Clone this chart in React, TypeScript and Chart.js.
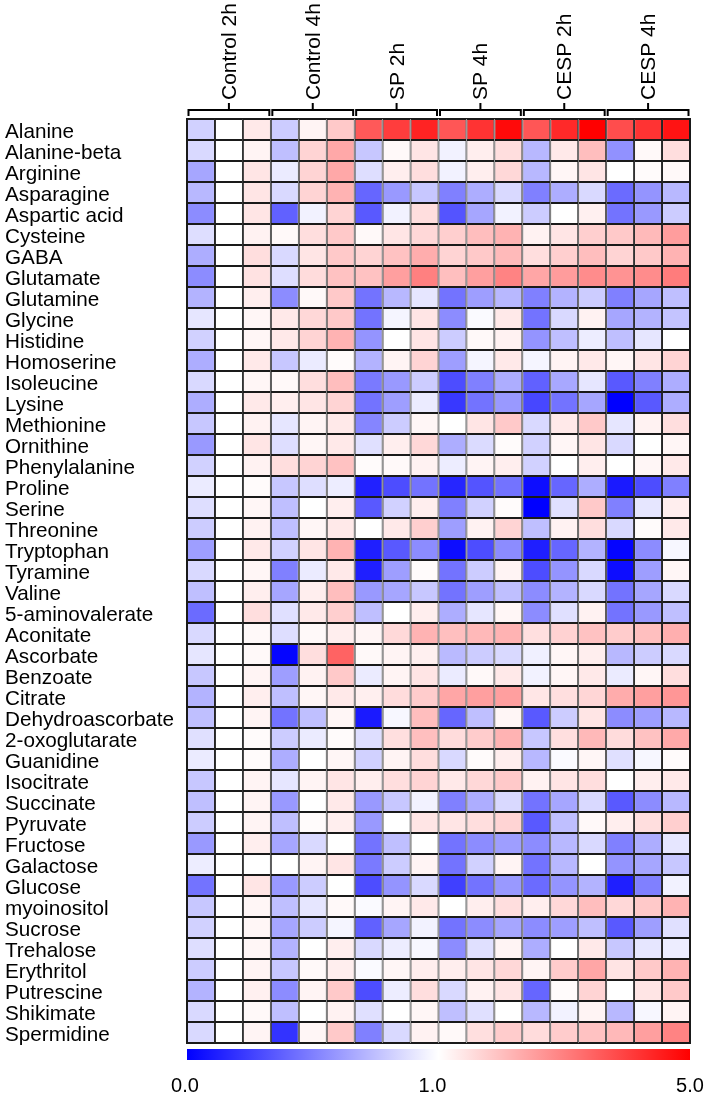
import React, { useEffect, useRef } from "react";
import { Chart, registerables } from "chart.js";

Chart.register(...registerables);

const metabolites: string[] = [
  "Alanine", "Alanine-beta", "Arginine", "Asparagine", "Aspartic acid", "Cysteine", "GABA",
  "Glutamate", "Glutamine", "Glycine", "Histidine", "Homoserine", "Isoleucine", "Lysine",
  "Methionine", "Ornithine", "Phenylalanine", "Proline", "Serine", "Threonine", "Tryptophan",
  "Tyramine", "Valine", "5-aminovalerate", "Aconitate", "Ascorbate", "Benzoate", "Citrate",
  "Dehydroascorbate", "2-oxoglutarate", "Guanidine", "Isocitrate", "Succinate", "Pyruvate",
  "Fructose", "Galactose", "Glucose", "myoinositol", "Sucrose", "Trehalose", "Erythritol",
  "Putrescine", "Shikimate", "Spermidine",
];

const groupLabels: string[] = ["Control 2h", "Control 4h", "SP 2h", "SP 4h", "CESP 2h", "CESP 4h"];

const scaleTicks: number[] = [0, 1, 5];
const scaleTickLabels: string[] = ["0.0", "1.0", "5.0"];

// fold change values, three replicates per group, one triple per metabolite (same order)
const control2h: number[][] = [
  [0.82, 1, 1.34], [0.85, 1, 1.17], [0.65, 1, 1.41], [0.72, 1, 1.41], [0.55, 1, 1.41], [0.87, 1, 1.2],
  [0.68, 1, 1.51], [0.55, 1, 1.45], [0.7, 1, 1.27], [0.9, 1, 1.14], [0.82, 1, 1.14], [0.68, 1, 1.34],
  [0.85, 1, 1.14], [0.68, 1, 1.34], [0.78, 1, 1.2], [0.6, 1, 1.41], [0.82, 1, 1.2], [0.92, 1, 1.07],
  [0.87, 1, 1.14], [0.8, 1, 1.2], [0.62, 1, 1.34], [0.85, 1, 1.14], [0.75, 1, 1.27], [0.42, 1, 1.51],
  [0.85, 1, 1.1], [0.9, 1, 1.1], [0.78, 1, 1.17], [0.7, 1, 1.27], [0.75, 1, 1.17], [0.88, 1, 1.07],
  [0.92, 1, 1.07], [0.78, 1, 1.17], [0.75, 1, 1.17], [0.8, 1, 1.17], [0.6, 1, 1.27], [0.93, 1, 1.0],
  [0.45, 1, 1.41], [0.78, 1, 1.14], [0.82, 1, 1.14], [0.87, 1, 1.14], [0.8, 1, 1.17], [0.7, 1, 1.24],
  [0.85, 1, 1.1], [0.85, 1, 1.17],
];

const control4h: number[][] = [
  [0.8, 1.17, 1.85], [0.75, 1.68, 2.36], [0.92, 1.68, 2.36], [0.85, 1.68, 2.19], [0.38, 0.95, 1.68],
  [1.1, 1.51, 1.85], [0.85, 1.41, 1.85], [0.87, 1.55, 1.95], [0.55, 1.1, 1.85], [1.34, 1.61, 1.85],
  [1.34, 1.68, 2.19], [0.78, 0.92, 1.07], [1.1, 1.51, 2.02], [1.27, 1.41, 1.68], [0.9, 1.17, 1.34],
  [0.87, 1.14, 1.34], [1.51, 1.68, 1.95], [0.78, 0.87, 0.93], [0.75, 1.0, 1.27], [0.75, 1.14, 1.34],
  [0.82, 1.41, 2.19], [0.5, 0.92, 1.34], [0.65, 1.27, 2.02], [0.88, 1.34, 1.75], [0.87, 1.1, 1.27],
  [0.02, 1.51, 3.45], [0.62, 1.2, 1.85], [0.75, 1.14, 1.34], [0.45, 0.75, 1.14], [0.8, 0.92, 1.07],
  [0.68, 1.0, 1.14], [0.9, 1.17, 1.41], [0.6, 1.0, 1.34], [0.75, 1.07, 1.27], [0.65, 0.85, 1.0],
  [1.0, 1.17, 1.41], [0.6, 0.8, 1.0], [0.75, 0.9, 1.1], [0.65, 0.8, 0.96], [0.7, 1.0, 1.27],
  [0.78, 1.1, 1.27], [0.55, 1.17, 1.85], [0.75, 1.0, 1.2], [0.2, 1.14, 1.85],
];

const sp2h: number[][] = [
  [3.6, 4.05, 4.45], [0.78, 1.1, 1.41], [0.87, 1.27, 1.51], [0.4, 0.6, 0.78], [0.35, 0.95, 1.51],
  [1.1, 1.41, 1.61], [1.68, 1.95, 2.29], [1.95, 2.5, 3.0], [0.45, 0.72, 0.9], [0.45, 0.96, 1.41],
  [0.58, 1.0, 1.41], [0.7, 1.17, 1.68], [0.48, 0.6, 0.8], [0.45, 0.62, 0.92], [0.52, 0.8, 1.14],
  [0.88, 1.27, 1.61], [1.07, 1.1, 1.2], [0.13, 0.3, 0.45], [0.35, 0.82, 1.27], [1.0, 1.34, 1.75],
  [0.12, 0.35, 0.55], [0.12, 0.62, 1.07], [0.6, 0.65, 0.78], [0.75, 1.0, 1.27], [1.15, 1.6, 2.2],
  [1.1, 1.17, 1.24], [0.92, 1.17, 1.41], [1.25, 1.55, 1.8], [0.1, 0.97, 2.02], [0.87, 1.5, 2.0],
  [0.82, 1.17, 1.51], [1.27, 1.51, 1.68], [0.6, 0.78, 0.95], [0.6, 1.0, 1.41], [0.45, 0.75, 1.0],
  [0.48, 0.8, 1.17], [0.3, 0.58, 0.85], [0.98, 1.17, 1.34], [0.38, 0.65, 0.95], [0.85, 0.93, 0.97],
  [0.98, 1.14, 1.27], [0.3, 0.93, 1.51], [0.88, 1.0, 1.14], [0.5, 0.85, 1.2],
];

const sp4h: number[][] = [
  [3.65, 4.2, 4.85], [0.95, 1.27, 1.51], [0.95, 1.27, 1.61], [0.5, 0.68, 0.85], [0.33, 0.65, 0.95],
  [1.75, 2.02, 2.19], [1.68, 1.85, 2.09], [2.0, 2.5, 2.95], [0.45, 0.62, 0.72], [0.55, 0.98, 1.34],
  [0.8, 1.1, 1.2], [0.62, 0.96, 1.34], [0.3, 0.5, 0.68], [0.22, 0.45, 0.6], [1.0, 1.41, 1.85],
  [0.68, 0.86, 1.07], [0.93, 1.17, 1.27], [0.15, 0.33, 0.45], [0.5, 0.82, 1.07], [0.62, 1.2, 1.68],
  [0.05, 0.3, 0.55], [0.45, 0.8, 1.17], [0.45, 0.62, 0.75], [0.68, 0.9, 1.14], [2.0, 2.1, 2.2],
  [0.73, 0.8, 0.85], [0.92, 1.1, 1.34], [2.4, 2.5, 2.5], [0.4, 0.75, 1.14], [1.55, 1.8, 2.2],
  [0.85, 1.07, 1.27], [1.34, 1.61, 1.85], [0.5, 0.68, 0.85], [1.41, 1.51, 1.68], [0.45, 0.55, 0.62],
  [0.45, 0.82, 1.17], [0.25, 0.45, 0.6], [1.0, 1.27, 1.51], [0.45, 0.55, 0.65], [0.55, 0.88, 1.17],
  [1.27, 1.41, 1.61], [0.85, 1.2, 1.41], [0.75, 0.88, 1.0], [1.1, 1.5, 1.8],
];

const cesp2h: number[][] = [
  [3.65, 4.35, 5.0], [0.72, 1.34, 2.02], [0.72, 1.14, 1.41], [0.5, 0.68, 0.85], [0.8, 1.0, 1.24],
  [1.2, 1.41, 1.75], [1.51, 1.75, 2.02], [2.4, 2.55, 2.8], [0.5, 0.7, 0.8], [0.45, 0.85, 1.2],
  [0.58, 0.75, 0.93], [0.96, 1.17, 1.34], [0.38, 0.66, 0.9], [0.28, 0.45, 0.65], [0.85, 1.34, 1.85],
  [0.82, 1.14, 1.41], [0.82, 1.0, 1.27], [0.05, 0.4, 0.68], [0.0, 0.88, 1.85], [0.75, 1.2, 1.51],
  [0.12, 0.4, 0.7], [0.3, 0.58, 0.85], [0.55, 0.7, 0.85], [0.55, 0.88, 1.2], [1.5, 1.7, 1.95],
  [0.94, 1.14, 1.27], [0.95, 1.14, 1.34], [1.4, 1.5, 1.65], [0.35, 0.8, 1.41], [0.78, 1.5, 2.1],
  [0.72, 0.98, 1.14], [1.2, 1.41, 1.51], [0.45, 0.65, 0.85], [0.35, 0.75, 1.1], [0.55, 0.72, 0.85],
  [0.45, 0.72, 1.0], [0.42, 0.58, 0.7], [1.27, 1.61, 2.02], [0.55, 0.62, 0.75], [0.68, 1.0, 1.34],
  [1.17, 1.8, 2.4], [0.4, 1.07, 1.68], [0.72, 0.95, 1.17], [1.55, 1.8, 1.95],
];

const cesp4h: number[][] = [
  [3.8, 4.2, 4.7], [0.57, 1.1, 1.51], [1.0, 1.07, 1.1], [0.42, 0.58, 0.72], [0.45, 0.6, 0.8],
  [1.85, 2.09, 2.53], [1.68, 1.85, 2.19], [2.7, 2.8, 3.05], [0.5, 0.65, 0.75], [0.65, 0.7, 0.77],
  [0.75, 0.9, 1.0], [1.14, 1.41, 1.68], [0.35, 0.5, 0.68], [0.0, 0.35, 0.68], [0.9, 1.2, 1.51],
  [0.85, 1.0, 1.14], [1.0, 1.14, 1.34], [0.1, 0.3, 0.5], [0.5, 0.9, 1.27], [0.85, 1.07, 1.34],
  [0.02, 0.55, 0.97], [0.05, 0.62, 1.14], [0.45, 0.65, 0.85], [0.45, 0.6, 0.75], [1.8, 2.0, 2.25],
  [0.72, 0.8, 0.85], [0.92, 1.14, 1.51], [2.3, 2.5, 2.65], [0.55, 0.62, 0.72], [1.55, 1.95, 2.35],
  [0.88, 0.97, 1.07], [1.0, 1.27, 1.34], [0.35, 0.55, 0.72], [1.27, 1.51, 1.75], [0.5, 0.68, 0.9],
  [0.58, 0.65, 0.78], [0.12, 0.5, 0.95], [1.61, 1.85, 2.19], [0.35, 0.62, 0.88], [0.78, 0.9, 0.93],
  [1.42, 1.85, 2.2], [1.0, 1.41, 1.85], [0.72, 0.97, 1.17], [2.1, 2.5, 2.95],
];

const groups: number[][][] = [control2h, control4h, sp2h, sp4h, cesp2h, cesp4h];

const FONT = "Arial, 'Liberation Sans', sans-serif";

function foldColor(v: number): string {
  if (v <= 1) {
    const c = Math.round(255 * Math.max(0, v));
    return `rgb(${c},${c},255)`;
  }
  const t = Math.min(1, (v - 1) / 4);
  const c = Math.round(255 * (1 - t));
  return `rgb(255,${c},${c})`;
}

const overlayPlugin = {
  id: "heatOverlay",
  afterDraw(chart: any) {
    const { ctx, chartArea } = chart;
    const x = chart.scales.x;
    ctx.save();
    // outer frame
    ctx.strokeStyle = "#1a1a1a";
    ctx.lineWidth = 1;
    ctx.strokeRect(chartArea.left - 0.5, chartArea.top - 0.5, chartArea.right - chartArea.left + 1, chartArea.bottom - chartArea.top + 1);

    // brackets & group labels
    ctx.strokeStyle = "#000";
    ctx.lineWidth = 2;
    ctx.fillStyle = "#000";
    ctx.font = `21px ${FONT}`;
    groupLabels.forEach((label, i) => {
      const l = x.getPixelForValue(i * 3);
      const r = x.getPixelForValue(i * 3 + 3);
      const c = x.getPixelForValue(i * 3 + 1.5);
      const yb = chartArea.top - 9;
      ctx.beginPath();
      ctx.moveTo(l + 1.5, yb + 6);
      ctx.lineTo(l + 1.5, yb);
      ctx.lineTo(r - 1.5, yb);
      ctx.lineTo(r - 1.5, yb + 6);
      ctx.moveTo(c, yb);
      ctx.lineTo(c, yb - 7);
      ctx.stroke();
      ctx.save();
      ctx.translate(c + 7, chartArea.top - 19);
      ctx.rotate(-Math.PI / 2);
      ctx.textAlign = "left";
      ctx.textBaseline = "alphabetic";
      ctx.fillText(label, 0, 0);
      ctx.restore();
    });

    // colour bar
    const bl = chartArea.left;
    const br = chartArea.right;
    const bt = chartArea.bottom + 6;
    const bh = 11;
    const grad = ctx.createLinearGradient(bl, 0, br, 0);
    grad.addColorStop(0, foldColor(scaleTicks[0]));
    grad.addColorStop(0.5, foldColor(scaleTicks[1]));
    grad.addColorStop(1, foldColor(scaleTicks[2]));
    ctx.fillStyle = grad;
    ctx.fillRect(bl, bt, br - bl, bh);

    ctx.fillStyle = "#000";
    ctx.font = `20px ${FONT}`;
    ctx.textAlign = "center";
    ctx.textBaseline = "alphabetic";
    const tickX = [bl - 2, (bl + br) / 2 - 6, br];
    scaleTickLabels.forEach((t, i) => {
      ctx.fillText(t, tickX[i], chartArea.bottom + 49);
    });
    ctx.restore();
  },
};

export default function App() {
  const ref = useRef<HTMLCanvasElement | null>(null);

  useEffect(() => {
    if (!ref.current) return;
    const datasets = [] as any[];
    groups.forEach((g, gi) => {
      for (let rep = 0; rep < 3; rep++) {
        const col = gi * 3 + rep;
        datasets.push({
          label: `${groupLabels[gi]} ${rep + 1}`,
          data: metabolites.map((m, mi) => ({ x: [col, col + 1], y: m, v: g[mi][rep] })),
          backgroundColor: (c: any) => (c.raw ? foldColor(c.raw.v) : "#fff"),
          borderColor: "#1a1a1a",
          borderWidth: 1,
          borderSkipped: false,
          inflateAmount: 0,
          grouped: false,
          barPercentage: 1,
          categoryPercentage: 1,
        });
      }
    });

    const chart = new Chart(ref.current, {
      type: "bar",
      data: { labels: metabolites, datasets },
      options: {
        indexAxis: "y",
        responsive: false,
        animation: false,
        devicePixelRatio: 1,
        layout: { padding: { left: 5, top: 119, right: 18, bottom: 53 } },
        plugins: { legend: { display: false }, tooltip: { enabled: false } },
        scales: {
          x: { type: "linear", min: 0, max: 18, display: false },
          y: {
            type: "category",
            position: "left",
            grid: { display: false },
            border: { display: false },
            ticks: {
              autoSkip: false,
              crossAlign: "far",
              padding: 0,
              labelOffset: 3,
              color: "#000",
              font: { family: FONT, size: 20.7 },
            },
            afterFit: (scale: any) => {
              scale.width = 182;
            },
          },
        },
      },
      plugins: [overlayPlugin],
    } as any);
    return () => chart.destroy();
  }, []);

  return (
    <div style={{ position: "fixed", left: 0, top: 0, width: 708, height: 1096, background: "#fff" }}>
      <canvas ref={ref} width={708} height={1096} style={{ display: "block", width: 708, height: 1096 }} />
    </div>
  );
}
